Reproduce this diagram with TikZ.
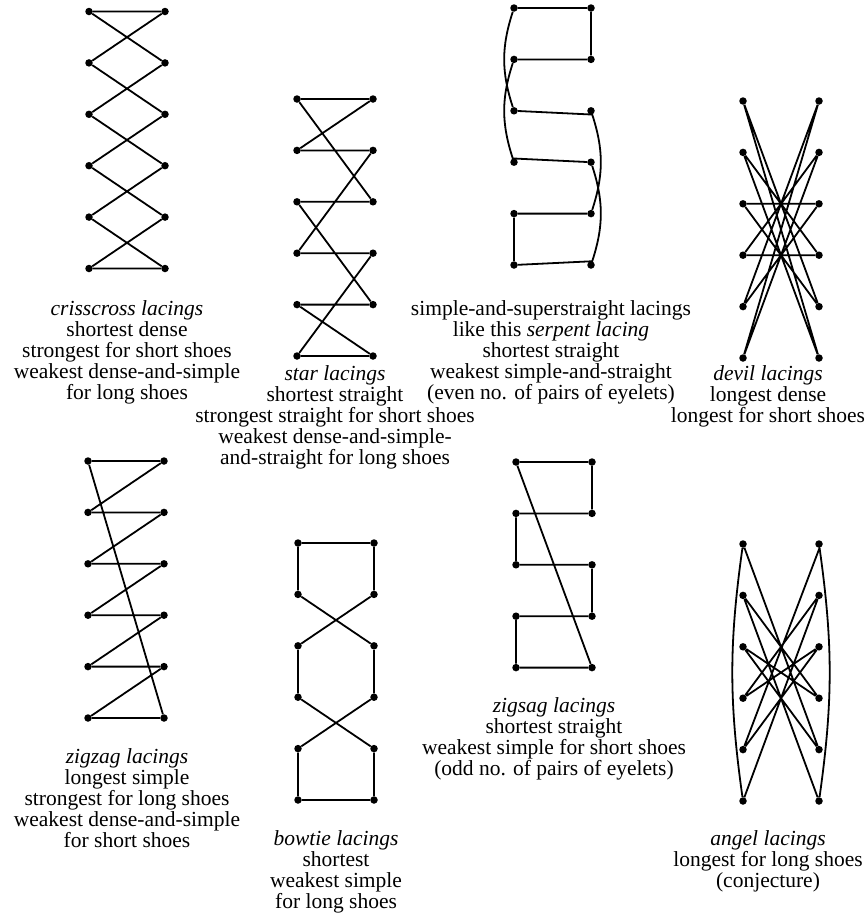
\documentclass[tikz,border=0pt]{standalone}
\usepackage{fontspec}
\setmainfont{Liberation Serif}
\usepackage{tikz}
\usetikzlibrary{positioning,calc}
% one row of eyelet pairs: prefix, left x, right x, top y, number of pairs
\newcommand{\eyelets}[5]{%
  \foreach \i in {1,...,#5}{
    \node[eye] (#1L\i) at (#2,{#4+51.4*(\i-1)}) {};
    \node[eye] (#1R\i) at (#3,{#4+51.4*(\i-1)}) {};
  }}

\begin{document}
\begin{tikzpicture}[x=1pt,y=-1pt,
  eye/.style={circle,fill=black,inner sep=0pt,minimum size=7.5pt},
  lace/.style={line width=1.8pt,line join=round},
  caption/.style={align=center,anchor=north,inner sep=0pt,font=\fontsize{21.5}{21}\selectfont}]
  \useasboundingbox (0,0) rectangle (867,921);
  % eyelets
  \eyelets{cc}{89}{165}{11.5}{6}
  \eyelets{st}{297}{373}{99}{6}
  \eyelets{se}{514}{591}{8}{6}
  \eyelets{de}{743}{819}{101}{6}
  \eyelets{zz}{88}{164}{461}{6}
  \eyelets{bo}{298}{374}{543}{6}
  \eyelets{zs}{516}{592}{462}{5}
  \eyelets{an}{743}{819}{544}{6}
  % crisscross
  \draw[lace] (ccL1) -- (ccR1) -- (ccL2) -- (ccR3) -- (ccL4) -- (ccR5) -- (ccL6) -- (ccR6)
    -- (ccL5) -- (ccR4) -- (ccL3) -- (ccR2) -- (ccL1);
  % star
  \draw[lace] (stL1) -- (stR1) -- (stL2) -- (stR2) -- (stL4) -- (stR4) -- (stL6) -- (stR6)
    -- (stL5) -- (stR5) -- (stL3) -- (stR3) -- (stL1);
  % serpent
  \draw[lace] (seL1) -- (seR1) -- (seR2) -- (seL2) to[bend right=18] (seL4) -- (seR4)
    to[bend left=18] (seR6) -- (seL6) -- (seL5) -- (seR5) to[bend right=18] (seR3)
    -- (seL3) to[bend left=18] (seL1);
  % devil
  \draw[lace] (deL1) -- (deR5) -- (deL3) -- (deR3) -- (deL5) -- (deR1) -- (deL6) -- (deR2)
    -- (deL4) -- (deR4) -- (deL2) -- (deR6) -- (deL1);
  % zigzag
  \draw[lace] (zzL1) -- (zzR1) -- (zzL2) -- (zzR2) -- (zzL3) -- (zzR3) -- (zzL4) -- (zzR4)
    -- (zzL5) -- (zzR5) -- (zzL6) -- (zzR6) -- (zzL1);
  % bowtie
  \draw[lace] (boL1) -- (boR1) -- (boR2) -- (boL3) -- (boL4) -- (boR5) -- (boR6) -- (boL6)
    -- (boL5) -- (boR4) -- (boR3) -- (boL2) -- (boL1);
  % zigsag
  \draw[lace] (zsL1) -- (zsR1) -- (zsR2) -- (zsL2) -- (zsL3) -- (zsR3) -- (zsR4) -- (zsL4)
    -- (zsL5) -- (zsR5) -- (zsL1);
  % angel
  \draw[lace] (anL1) -- (anR5) -- (anL3) -- (anR4) -- (anL2) -- (anR6) to[bend right=8] (anR1)
    -- (anL5) -- (anR3) -- (anL4) -- (anR2) -- (anL6) to[bend left=8] (anL1);
  % captions
  \node[caption] (cccap) at (127,300) {\textit{crisscross lacings}\\ shortest dense\\
    strongest for short shoes\\ weakest dense-and-simple\\ for long shoes};
  \node[caption] (stcap) at (335,365) {\textit{star lacings}\\ shortest straight\\
    strongest straight for short shoes\\ weakest dense-and-simple-\\ and-straight for long shoes};
  \node[caption] (secap) at (551,300) {simple-and-superstraight lacings\\
    like this \textit{serpent lacing}\\ shortest straight\\ weakest simple-and-straight\\
    (even no. of pairs of eyelets)};
  \node[caption] (decap) at (768,365) {\textit{devil lacings}\\ longest dense\\ longest for short shoes};
  \node[caption] (zzcap) at (127,748) {\textit{zigzag lacings}\\ longest simple\\
    strongest for long shoes\\ weakest dense-and-simple\\ for short shoes};
  \node[caption] (bocap) at (336,830) {\textit{bowtie lacings}\\ shortest\\ weakest simple\\ for long shoes};
  \node[caption] (zscap) at (554,697) {\textit{zigsag lacings}\\ shortest straight\\
    weakest simple for short shoes\\ (odd no. of pairs of eyelets)};
  \node[caption] (ancap) at (768,830) {\textit{angel lacings}\\ longest for long shoes\\ (conjecture)};
\end{tikzpicture}
\end{document}
